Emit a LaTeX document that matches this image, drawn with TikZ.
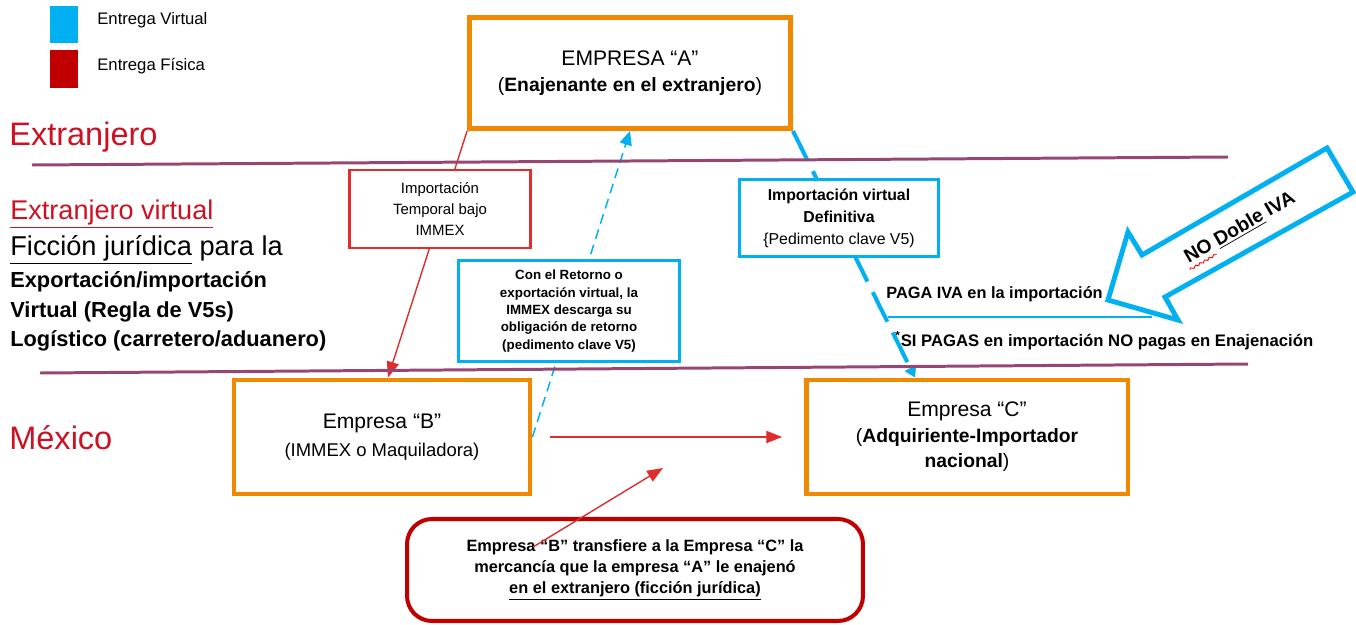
\documentclass[tikz,border=0pt]{standalone}
\usepackage{fontspec}
\setmainfont{Liberation Sans}
\usetikzlibrary{arrows.meta, backgrounds, calc, decorations.pathmorphing}

\definecolor{naranja}{RGB}{240,136,0}
\definecolor{celeste}{RGB}{0,176,240}
\definecolor{rojo}{RGB}{192,0,0}
\definecolor{rojoclaro}{RGB}{222,45,45}
\definecolor{rojotexto}{RGB}{204,17,34}
\definecolor{morado}{RGB}{150,70,115}

\tikzset{
  empresa/.style={draw=naranja, line width=2.8pt, fill=white, align=center, inner sep=0pt},
  notaroja/.style={draw=rojoclaro, line width=1.4pt, fill=white, align=center, inner sep=0pt},
  notaceleste/.style={draw=celeste, line width=1.7pt, fill=white, align=center, inner sep=0pt},
  texto/.style={anchor=west, inner sep=0pt},
  frontera/.style={draw=morado, line width=1.7pt},
  fisica/.style={draw=rojoclaro, line width=0.8pt, -{Triangle[length=9pt,width=7pt]}},
  virtual/.style={draw=celeste, line width=0.85pt, dash pattern=on 5.7pt off 3.4pt, -{Triangle[length=8pt,width=7pt]}},
  virtualgrueso/.style={draw=celeste, line width=2.3pt, dash pattern=on 18.8pt off 6.8pt, -{Triangle[length=6pt,width=7pt]}}
}

\begin{document}
\begin{tikzpicture}[x=0.02cm, y=-0.02cm]
\useasboundingbox (0,0) rectangle (1356,625);

% leyenda
\node[fill=celeste, minimum width=0.56cm, minimum height=0.74cm, inner sep=0pt] (lv) at (64,24.5) {};
\node[texto, font=\fontsize{9.5}{11}\selectfont] (tlv) at (97,20) {Entrega Virtual};
\node[fill=rojo, minimum width=0.56cm, minimum height=0.76cm, inner sep=0pt] (lf) at (64,69) {};
\node[texto, font=\fontsize{9.5}{11}\selectfont] (tlf) at (97,66) {Entrega Física};

% zonas
\node[texto, text=rojotexto, font=\fontsize{18.5}{22}\selectfont] (extr) at (9,137) {Extranjero};
\node[texto, text=rojotexto, font=\fontsize{15.4}{18}\selectfont] (extrv) at (10,214) {\underline{Extranjero virtual}};
\node[texto, font=\fontsize{15.5}{18}\selectfont] (ficcion) at (10,250) {\underline{Ficción jurídica} para la};
\node[texto, font=\fontsize{12.4}{15}\selectfont\bfseries] (exp) at (10,282) {Exportación/importación};
\node[texto, font=\fontsize{12.4}{15}\selectfont\bfseries] (regla) at (10,312) {Virtual (Regla de V5s)};
\node[texto, font=\fontsize{12.4}{15}\selectfont\bfseries] (logis) at (10,341) {Logístico (carretero/aduanero)};
\node[texto, text=rojotexto, font=\fontsize{18.5}{22}\selectfont] (mex) at (9,438) {México};

% fronteras
\coordinate (f1a) at (32,165);
\coordinate (f1b) at (1228,157);
\coordinate (f2a) at (40,373);
\coordinate (f2b) at (1248,364);
\draw[frontera] (f1a) -- (f1b);
\draw[frontera] (f2a) -- (f2b);

% empresas
\node[empresa, minimum width=6.42cm, minimum height=2.22cm, font=\fontsize{12}{15}\selectfont] (A) at (630,73)
  {EMPRESA “A”\\{\fontsize{11}{15}\selectfont(\textbf{Enajenante en el extranjero})}};
\node[empresa, minimum width=5.92cm, minimum height=2.28cm, font=\fontsize{12}{16}\selectfont] (B) at (382,437)
  {Empresa “B”\\{\fontsize{10.5}{16}\selectfont(IMMEX o Maquiladora)}};
\node[empresa, minimum width=6.44cm, minimum height=2.28cm, font=\fontsize{12}{14.5}\selectfont] (C) at (967,437)
  {Empresa “C”\\{\fontsize{11}{14.5}\selectfont(\textbf{Adquiriente-Importador}}\\{\fontsize{11}{14.5}\selectfont\textbf{nacional})}};

% notas
\node[notaroja, minimum width=3.62cm, minimum height=1.56cm, font=\fontsize{8.5}{12}\selectfont] (temporal) at (440,209)
  {Importación\\Temporal bajo\\IMMEX};
\node[notaceleste, minimum width=4.42cm, minimum height=2.04cm, font=\fontsize{7.6}{9.9}\selectfont\bfseries] (retorno) at (569,311)
  {Con el Retorno o\\exportación virtual, la\\IMMEX descarga su\\obligación de retorno\\(pedimento clave V5)};
\node[notaceleste, minimum width=3.98cm, minimum height=1.54cm, font=\fontsize{9}{12.5}\selectfont] (definitiva) at (839,218)
  {\textbf{Importación virtual}\\\textbf{Definitiva}\\\{Pedimento clave V5)};
\node[draw=rojo, line width=2.3pt, rounded corners=0.5cm, fill=white, align=center, inner sep=0pt,
  minimum width=9.12cm, minimum height=2.04cm, font=\fontsize{9.3}{12}\selectfont\bfseries] (transfiere) at (635,570)
  {Empresa “B” transfiere a la Empresa “C” la\\mercancía que la empresa “A” le enajenó\\\underline{en el extranjero (ficción jurídica)}};

% IVA
\node[texto, font=\fontsize{9.3}{11}\selectfont\bfseries] (paga) at (886,294) {PAGA IVA en la importación};
\coordinate (s1) at (888,317);
\coordinate (s2) at (1152,317);
\draw[celeste, line width=0.6pt] (s1) -- (s2);
\node[texto, font=\fontsize{9.5}{11}\selectfont\bfseries] (sipagas) at (895,341) {\textsuperscript{*}SI PAGAS en importación NO pagas en Enajenación};

% flecha NO doble IVA
\draw[celeste, line width=2.8pt, line join=miter] (1108,300) -- (1128,232) -- (1142,255) -- (1327,148)
  -- (1353,192) -- (1165,297) -- (1178,320) -- cycle;
\node[rotate=30, font=\fontsize{11}{13}\selectfont\bfseries, inner sep=1pt] (nodoble) at (1240,228)
  {NO \underline{Doble} IVA};
\draw[red, line width=0.5pt, decorate, decoration={snake, amplitude=0.6pt, segment length=3pt}]
  (nodoble.south west) -- ($(nodoble.south west)!0.24!(nodoble.south east)$);

% entregas
\begin{scope}[on background layer]
\draw[fisica] (A.south west) -- ([xshift=0.12cm]B.north);
\draw[virtual] (B.east) -- (A.south);
\draw[virtualgrueso] (A.south east) -- ([xshift=-1.04cm]C.north);
\end{scope}
\draw[fisica] ([xshift=0.35cm]B.east) -- ([xshift=-0.43cm]C.west);
\coordinate (flecha) at (663,468);
\draw[fisica] ([shift={(-2.04cm,0.46cm)}]transfiere.center) -- (flecha);
\end{tikzpicture}
\end{document}
